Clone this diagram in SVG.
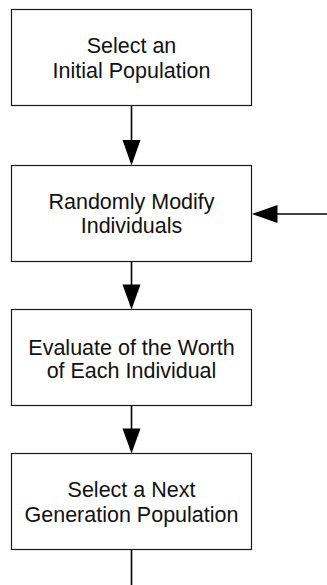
<svg xmlns="http://www.w3.org/2000/svg" width="327" height="585" viewBox="0 0 327 585">
<style>
.box{fill:#fff;stroke:#1a1a1a;stroke-width:1.2}
.lbl{font-family:"Liberation Sans",Arial,sans-serif;font-size:21.5px;fill:#111;text-anchor:middle}
.ln{stroke:#000;stroke-width:1.6;fill:none}
.hd{fill:#000;stroke:none}
</style>
<rect width="327" height="585" fill="#fff"/>
<g id="connectors">
<line class="ln" x1="131.5" y1="105.5" x2="131.5" y2="141"/>
<polygon class="hd" points="122.5,140 140.5,140 131.5,165.5"/>
<line class="ln" x1="131.5" y1="261.5" x2="131.5" y2="285.5"/>
<polygon class="hd" points="122.5,284.5 140.5,284.5 131.5,309.5"/>
<line class="ln" x1="131.5" y1="405.5" x2="131.5" y2="429.5"/>
<polygon class="hd" points="122.5,428.5 140.5,428.5 131.5,453.5"/>
<line class="ln" x1="131.5" y1="549.5" x2="131.5" y2="585"/>
<line class="ln" x1="327" y1="214" x2="276.5" y2="214"/>
<polygon class="hd" points="277.5,205 277.5,223 252,214"/>
</g>
<g id="node1">
<rect class="box" x="11.5" y="9.5" width="240" height="96"/>
<text class="lbl" x="131.5" y="53.2">Select an</text>
<text class="lbl" x="131.5" y="77.7">Initial Population</text>
</g>
<g id="node2">
<rect class="box" x="11.5" y="165.5" width="240" height="96"/>
<text class="lbl" x="131.5" y="209.2">Randomly Modify</text>
<text class="lbl" x="131.5" y="233.4">Individuals</text>
</g>
<g id="node3">
<rect class="box" x="11.5" y="309.5" width="240" height="96"/>
<text class="lbl" x="131.5" y="354.5">Evaluate of the Worth</text>
<text class="lbl" x="131.5" y="378.3">of Each Individual</text>
</g>
<g id="node4">
<rect class="box" x="11.5" y="453.5" width="240" height="96"/>
<text class="lbl" x="131.5" y="497.4">Select a Next</text>
<text class="lbl" x="131.5" y="522.4">Generation Population</text>
</g>
</svg>
